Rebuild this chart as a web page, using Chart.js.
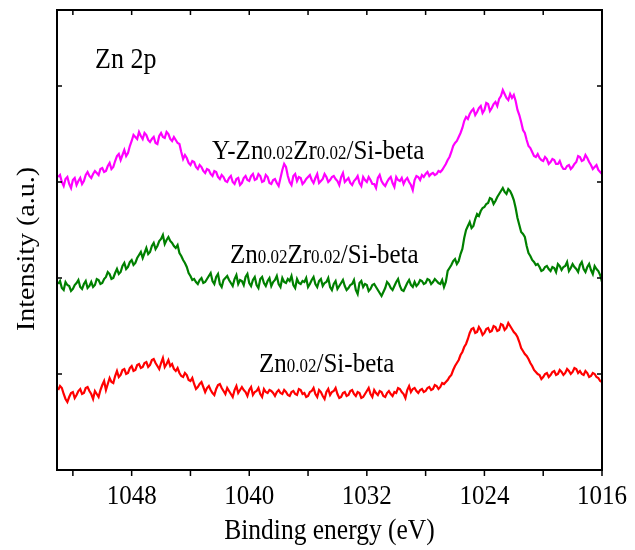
<!DOCTYPE html>
<html lang="en">
<head>
  <meta charset="UTF-8">
  <title>Zn 2p XPS</title>
  <script src="https://cdn.jsdelivr.net/npm/chart.js"></script>
  <style>
    * {
      margin: 0;
      padding: 0;
      box-sizing: border-box;
    }
    body {
      background-color: #ffffff;
    }
    .chart-box {
      width: 635px;
      height: 550px;
    }
  </style>
</head>
<body>
  <div class="chart-box">
    <canvas id="xpsChart" width="635" height="550"></canvas>
  </div>

  <script>
    // binding energy scan: 1053 eV down to 1016 eV in 0.125 eV steps
    const energyStart = 1053;
    const energyStep = 0.125;
    const pointCount = 297;

    const xTicks = [1016, 1024, 1032, 1040, 1048];

    // intensities (a.u., curves stacked with offsets as in the figure)
    const yZnZrSi = [
      293, 295, 288, 284, 291, 293, 286, 282, 290, 292, 285, 289, 292, 286, 289, 295, 298, 294, 292, 296,
      299, 297, 295, 301, 302, 298, 299, 304, 307, 301, 303, 309, 314, 316, 310, 315, 320, 314, 317, 324,
      329, 335, 333, 331, 338, 334, 331, 337, 335, 330, 328, 331, 333, 327, 326, 334, 337, 333, 332, 338,
      336, 331, 329, 333, 330, 327, 326, 318, 311, 315, 312, 307, 305, 309, 308, 303, 301, 305, 303, 299,
      297, 301, 300, 296, 294, 299, 298, 293, 291, 295, 293, 289, 288, 292, 294, 288, 286, 291, 292, 285,
      287, 292, 294, 290, 289, 294, 296, 290, 291, 296, 294, 288, 289, 295, 293, 287, 286, 290, 291, 287,
      284, 292, 300, 306, 303, 294, 288, 285, 294, 296, 289, 293, 292, 286, 288, 291, 293, 295, 290, 287,
      292, 296, 287, 289, 291, 296, 293, 288, 290, 293, 294, 291, 289, 285, 293, 297, 288, 290, 292, 287,
      285, 289, 291, 294, 287, 284, 293, 290, 288, 293, 290, 286, 286, 282, 292, 295, 289, 286, 284, 288,
      291, 293, 287, 283, 293, 290, 289, 292, 286, 290, 292, 288, 285, 280, 290, 294, 293, 290, 295, 293,
      296, 298, 294, 296, 297, 295, 296, 299, 298, 300, 303, 306, 310, 313, 318, 324, 327, 329, 333, 337,
      342, 349, 353, 351, 356, 359, 361, 355, 358, 362, 364, 357, 360, 367, 366, 359, 362, 366, 368, 364,
      371, 374, 380, 376, 372, 370, 376, 372, 375, 369, 360, 355, 348, 340, 337, 330, 324, 322, 318, 314,
      313, 316, 312, 310, 309, 313, 311, 306, 308, 311, 310, 306, 306, 309, 304, 301, 301, 304, 305, 301,
      303, 306, 308, 314, 313, 309, 310, 315, 312, 308, 305, 301, 303, 305, 300, 298, 296
    ];
    const znZrSi = [
      186, 189, 182, 180, 188, 185, 184, 179, 181, 185, 187, 190, 183, 181, 186, 189, 182, 184, 188, 183,
      185, 191, 190, 186, 187, 191, 193, 198, 196, 191, 192, 197, 201, 196, 198, 204, 207, 201, 203, 208,
      210, 205, 207, 212, 215, 218, 212, 217, 222, 216, 218, 224, 227, 221, 224, 229, 231, 235, 226, 230,
      233, 229, 227, 224, 222, 225, 217, 214, 210, 207, 203, 197, 194, 190, 191, 188, 186, 190, 192, 187,
      188, 191, 194, 197, 189, 186, 193, 196, 186, 183, 190, 192, 194, 190, 187, 184, 191, 195, 186, 190,
      189, 185, 193, 196, 187, 184, 190, 193, 185, 182, 191, 193, 187, 184, 189, 192, 184, 188, 190, 194,
      186, 183, 192, 188, 187, 191, 189, 194, 185, 182, 191, 187, 186, 189, 188, 192, 183, 186, 190, 193,
      186, 183, 189, 191, 184, 187, 188, 192, 183, 180, 186, 189, 181, 184, 187, 190, 184, 180, 182, 185,
      186, 190, 180, 176, 187, 189, 183, 186, 185, 179, 181, 185, 186, 183, 180, 177, 174, 178, 182, 188,
      186, 182, 180, 184, 188, 191, 184, 180, 179, 183, 187, 190, 185, 183, 188, 184, 186, 190, 189, 186,
      187, 191, 190, 186, 188, 191, 189, 187, 186, 190, 183, 188, 199, 202, 205, 209, 211, 206, 209, 216,
      221, 232, 240, 244, 248, 242, 244, 251, 256, 254, 259, 262, 263, 266, 267, 272, 271, 266, 269, 273,
      276, 279, 282, 278, 276, 281, 279, 275, 270, 262, 252, 245, 238, 236, 233, 224, 217, 214, 210, 208,
      205, 206, 203, 199, 200, 203, 204, 201, 199, 203, 202, 198, 206, 204, 200, 203, 204, 208, 199, 202,
      206, 203, 201, 198, 205, 208, 201, 198, 203, 206, 200, 196, 204, 201, 199, 195, 188
    ];
    const znSi = [
      80, 84, 82, 76, 71, 68, 73, 77, 78, 72, 75, 79, 81, 76, 77, 82, 83, 79, 76, 71,
      79, 76, 73, 80, 85, 89, 80, 86, 92, 88, 87, 94, 99, 93, 95, 100, 101, 96, 97, 102,
      104, 99, 100, 105, 106, 102, 103, 107, 108, 103, 105, 110, 111, 107, 104, 101, 107, 112, 103, 106,
      110, 104, 106, 101, 99, 102, 97, 94, 93, 97, 95, 90, 89, 92, 86, 81, 83, 86, 88, 83,
      78, 82, 84, 80, 77, 75, 81, 85, 86, 82, 79, 76, 82, 79, 76, 73, 80, 84, 77, 80,
      83, 80, 78, 74, 80, 83, 75, 78, 79, 82, 76, 73, 81, 78, 77, 80, 79, 77, 74, 78,
      80, 77, 76, 80, 78, 75, 74, 78, 79, 76, 75, 81, 80, 76, 77, 73, 74, 78, 79, 82,
      76, 73, 80, 78, 74, 71, 78, 81, 75, 78, 79, 82, 76, 72, 73, 77, 78, 74, 75, 79,
      80, 76, 74, 78, 77, 72, 73, 76, 79, 82, 76, 73, 80, 77, 75, 79, 78, 74, 73, 77,
      79, 76, 74, 78, 77, 82, 81, 78, 76, 72, 80, 84, 78, 81, 82, 79, 77, 80, 81, 78,
      79, 82, 83, 80, 81, 85, 84, 81, 83, 87, 86, 88, 90, 93, 95, 100, 104, 107, 110, 115,
      118, 123, 126, 131, 137, 141, 142, 137, 138, 143, 140, 135, 137, 141, 142, 138, 139, 144, 143, 139,
      140, 146, 145, 140, 142, 147, 144, 141, 138, 136, 133, 128, 122, 119, 116, 114, 111, 107, 104, 100,
      98, 96, 95, 91, 93, 96, 97, 93, 95, 98, 99, 95, 96, 100, 98, 95, 97, 101, 99, 96,
      98, 102, 101, 97, 99, 96, 95, 99, 97, 93, 94, 97, 96, 93, 92, 89, 88
    ];

    const energies = Array.from({ length: pointCount }, (_, i) => energyStart - i * energyStep);
    const toPoints = vals => vals.map((v, i) => ({ x: energies[i], y: v }));

    const serif = "'Liberation Serif', 'Times New Roman', serif";
    // the original figure is slightly stretched vertically, text included
    const stretch = 1.12;

    // [text, fontSize] pieces, subscripts drawn smaller on same baseline
    const curveLabels = [
      { x: 212, y: 159, parts: [['Y-Zn', 25], ['0.02', 17], ['Zr', 25], ['0.02', 17], ['/Si-beta', 25]] },
      { x: 230, y: 263, parts: [['Zn', 25], ['0.02', 17], ['Zr', 25], ['0.02', 17], ['/Si-beta', 25]] },
      { x: 259, y: 372, parts: [['Zn', 25], ['0.02', 17], ['/Si-beta', 25]] },
      { x: 95, y: 68, parts: [['Zn 2p', 26]] }
    ];

    function putText(ctx, txt, x, y, size, align, baseline, rot) {
      ctx.save();
      ctx.translate(x, y);
      ctx.scale(1, stretch);
      if (rot) ctx.rotate(rot);
      ctx.font = size + 'px ' + serif;
      ctx.textAlign = align;
      ctx.textBaseline = baseline;
      ctx.fillText(txt, 0, 0);
      ctx.restore();
    }

    const framePlugin = {
      id: 'framePlugin',
      afterDraw(chart) {
        const ctx = chart.ctx;
        const area = chart.chartArea;
        const xs = chart.scales.x;
        const ys = chart.scales.y;
        ctx.save();
        ctx.strokeStyle = '#000';
        ctx.lineWidth = 2;
        ctx.strokeRect(area.left, area.top, area.right - area.left, area.bottom - area.top);

        // ticks: bottom outward, top/left/right inward
        ctx.lineWidth = 1.5;
        ctx.beginPath();
        xs.ticks.forEach(t => {
          const px = xs.getPixelForValue(t.value);
          ctx.moveTo(px, area.top);
          ctx.lineTo(px, area.top + 5);
          ctx.moveTo(px, area.bottom);
          ctx.lineTo(px, area.bottom + 6);
        });
        ys.ticks.forEach(t => {
          if (t.value === 0) return;
          const py = ys.getPixelForValue(t.value);
          ctx.moveTo(area.left, py);
          ctx.lineTo(area.left + 5, py);
          ctx.moveTo(area.right, py);
          ctx.lineTo(area.right - 5, py);
        });
        ctx.stroke();

        ctx.fillStyle = '#000';
        xTicks.forEach(v => {
          putText(ctx, String(v), xs.getPixelForValue(v), 497, 25, 'center', 'middle');
        });
        putText(ctx, 'Binding energy (eV)', (area.left + area.right) / 2, 531, 25.5, 'center', 'middle');
        putText(ctx, 'Intensity (a.u.)', 27, 249, 25, 'center', 'middle', -Math.PI / 2);

        curveLabels.forEach(lbl => {
          let cx = lbl.x;
          lbl.parts.forEach(([txt, size]) => {
            putText(ctx, txt, cx, lbl.y, size, 'left', 'alphabetic');
            ctx.font = size + 'px ' + serif;
            cx += ctx.measureText(txt).width;
          });
        });
        ctx.restore();
      }
    };

    const lineSet = (label, vals, color) => ({
      label: label,
      data: toPoints(vals),
      borderColor: color,
      backgroundColor: color,
      borderWidth: 2.2,
      pointRadius: 0,
      tension: 0,
      fill: false
    });

    new Chart(document.getElementById('xpsChart').getContext('2d'), {
      type: 'line',
      data: {
        datasets: [
          lineSet('Y-Zn0.02Zr0.02/Si-beta', yZnZrSi, '#ff00ff'),
          lineSet('Zn0.02Zr0.02/Si-beta', znZrSi, '#008000'),
          lineSet('Zn0.02/Si-beta', znSi, '#ff0000')
        ]
      },
      options: {
        responsive: false,
        animation: false,
        layout: {
          padding: { top: 10, right: 33, left: 0, bottom: 0 }
        },
        plugins: {
          legend: { display: false },
          tooltip: { enabled: false }
        },
        scales: {
          x: {
            type: 'linear',
            reverse: true,
            min: 1016,
            max: 1053.08,
            afterFit: scale => { scale.height = 80; },
            border: { display: false },
            grid: { display: false },
            ticks: { display: false, stepSize: 4, includeBounds: false }
          },
          y: {
            min: 0,
            max: 460,
            afterFit: scale => { scale.width = 57; },
            border: { display: false },
            grid: { display: false },
            ticks: { display: false, stepSize: 96, includeBounds: false }
          }
        }
      },
      plugins: [framePlugin]
    });
  </script>
</body>
</html>
